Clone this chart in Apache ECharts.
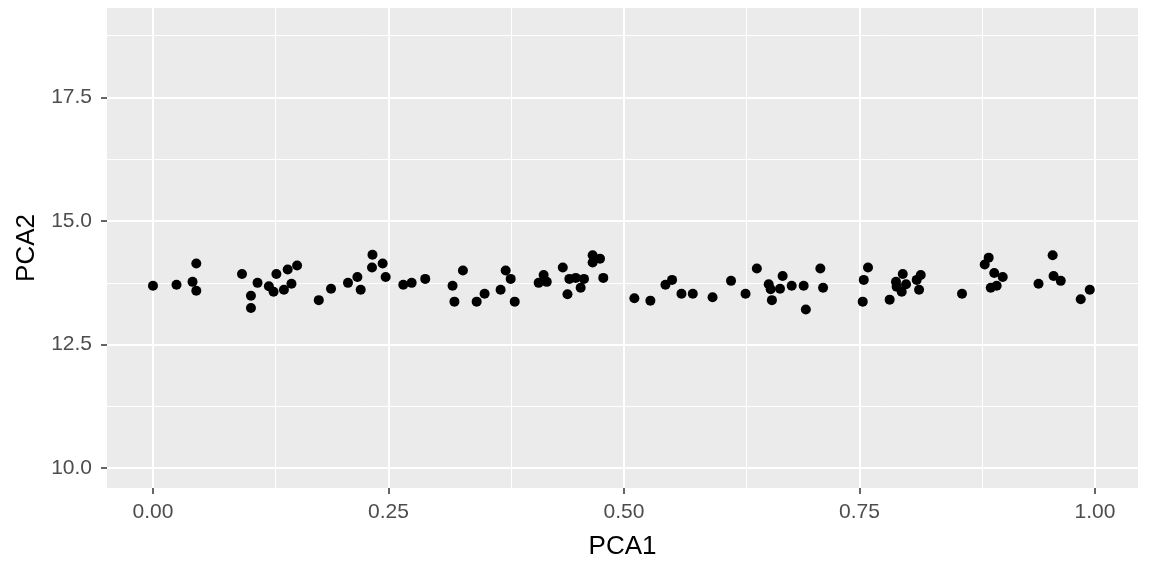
<!DOCTYPE html>
<html>
<head>
<meta charset="utf-8">
<script src="https://cdn.jsdelivr.net/npm/echarts@6/dist/echarts.min.js"></script>
<style>
html,body{margin:0;padding:0;background:#fff;}
#chart{width:1152px;height:576px;}
</style>
</head>
<body>
<div id="chart"></div>
<script>
const pca1 = [0.000,0.025,0.042,0.046,0.046,0.0945,0.104,0.104,0.111,0.123,0.128,0.131,0.139,0.143,0.147,0.153,0.176,0.189,0.207,0.217,0.2205,0.2325,0.233,0.2438,0.247,0.2657,0.2746,0.289,0.318,0.320,0.329,0.3436,0.352,0.369,0.3744,0.3797,0.384,0.4094,0.4147,0.418,0.435,0.440,0.442,0.4487,0.454,0.4575,0.4667,0.4667,0.4745,0.478,
  0.511,0.528,0.544,0.551,0.561,0.573,0.594,0.6136,0.629,0.641,0.6536,0.6557,0.657,0.6656,0.6684,0.678,0.6907,0.693,0.7084,0.7113,
  0.7534,0.7545,0.759,0.782,0.7887,0.7894,0.7948,0.7959,0.7994,0.8107,0.8132,0.815,0.8588,0.8829,0.8871,0.8893,0.893,0.8956,0.902,0.940,0.955,0.956,0.9636,0.9848,0.9944];
const pca2 = [13.69,13.71,13.77,14.14,13.59,13.93,13.49,13.24,13.75,13.68,13.57,13.93,13.61,14.02,13.73,14.10,13.40,13.63,13.75,13.87,13.61,14.06,14.32,14.14,13.87,13.71,13.75,13.83,13.69,13.37,14.00,13.37,13.53,13.61,14.00,13.83,13.37,13.75,13.91,13.77,14.06,13.52,13.83,13.85,13.65,13.83,14.31,14.16,14.24,13.85,
  13.44,13.39,13.71,13.81,13.53,13.53,13.46,13.79,13.53,14.04,13.72,13.62,13.40,13.63,13.89,13.69,13.69,13.21,14.04,13.65,
  13.37,13.81,14.06,13.41,13.77,13.67,13.57,13.93,13.72,13.81,13.61,13.91,13.53,14.12,14.26,13.65,13.95,13.69,13.87,13.73,14.31,13.89,13.79,13.42,13.61];

const xMajor = [0, 0.25, 0.5, 0.75, 1.0];
const xMinor = [0.125, 0.375, 0.625, 0.875];
const yMajor = [10, 12.5, 15, 17.5];
const yMinor = [11.25, 13.75, 16.25, 18.75];
const xLabels = ['0.00', '0.25', '0.50', '0.75', '1.00'];
const yLabels = ['10.0', '12.5', '15.0', '17.5'];

const FONT = '"Liberation Sans", Arial, sans-serif';
const chart = echarts.init(document.getElementById('chart'));

function gridLines(vals, axis, w) {
  return vals.map(v => axis === 'x' ? { xAxis: v, lineStyle: { width: w } } : { yAxis: v, lineStyle: { width: w } });
}

chart.setOption({
  animation: false,
  backgroundColor: '#ffffff',
  grid: { left: 107, right: 14, top: 8, bottom: 88, show: true, backgroundColor: '#EBEBEB', borderWidth: 0 },
  xAxis: {
    type: 'value', min: -0.0488, max: 1.0456,
    name: 'PCA1', nameLocation: 'middle', nameGap: 46,
    nameTextStyle: { color: '#000', fontSize: 26, fontFamily: FONT },
    axisLine: { show: true, onZero: false, lineStyle: { color: '#333333', width: 0, opacity: 0 } },
    splitLine: { show: false },
    axisTick: { show: true, inside: false, length: 6, lineStyle: { color: '#333333', width: 1.5, opacity: 1 }, customValues: xMajor },
    axisLabel: { customValues: xMajor, margin: 14, color: '#4D4D4D', fontSize: 21, fontFamily: FONT,
      formatter: v => xLabels[xMajor.indexOf(v)] !== undefined ? xLabels[xMajor.indexOf(v)] : v.toFixed(2) }
  },
  yAxis: {
    type: 'value', min: 9.6, max: 19.31,
    name: 'PCA2', nameLocation: 'middle', nameGap: 64, nameRotate: 90,
    nameTextStyle: { color: '#000', fontSize: 26, fontFamily: FONT },
    axisLine: { show: true, onZero: false, lineStyle: { color: '#333333', width: 0, opacity: 0 } },
    splitLine: { show: false },
    axisTick: { show: true, inside: false, length: 6, lineStyle: { color: '#333333', width: 1.5, opacity: 1 }, customValues: yMajor },
    axisLabel: { customValues: yMajor, margin: 15, color: '#4D4D4D', fontSize: 21, fontFamily: FONT,
      formatter: v => yLabels[yMajor.indexOf(v)] !== undefined ? yLabels[yMajor.indexOf(v)] : v.toFixed(1) }
  },
  series: [
    {
      type: 'scatter', data: [], z: 1, silent: true,
      markLine: {
        z: 1, silent: true, symbol: ['none', 'none'], label: { show: false }, animation: false,
        lineStyle: { color: '#ffffff', type: 'solid', width: 1 },
        data: [].concat(
          gridLines(xMinor, 'x', 1), gridLines(yMinor, 'y', 1),
          gridLines(xMajor, 'x', 2), gridLines(yMajor, 'y', 2)
        )
      }
    },
    {
      type: 'scatter', z: 10,
      symbolSize: 10,
      itemStyle: { color: '#000000', opacity: 1 },
      data: pca1.map((x, i) => [x, pca2[i]])
    }
  ]
});
</script>
</body>
</html>
